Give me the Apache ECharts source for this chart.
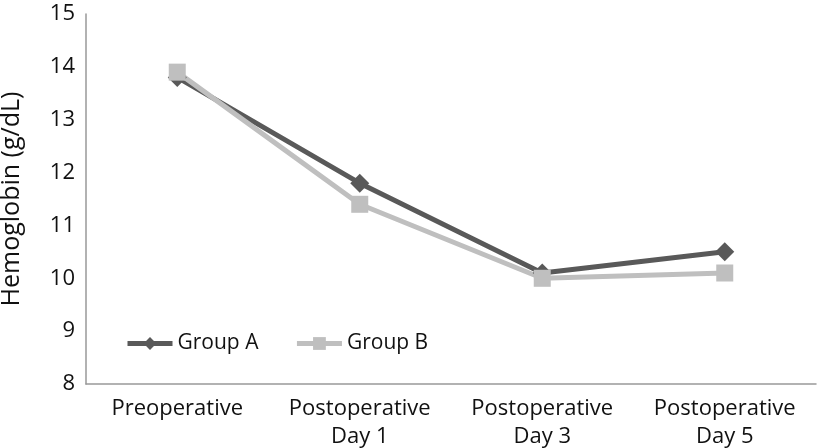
<!DOCTYPE html>
<html>
<head>
<meta charset="utf-8">
<script src="https://cdn.jsdelivr.net/npm/echarts@6/dist/echarts.min.js"></script>
<style>
  html, body { margin: 0; padding: 0; background: #fff; }
  #chart { width: 819px; height: 448px; }
</style>
</head>
<body>
<div id="chart"></div>
<script>
  const categories = ['Preoperative', 'Postoperative\nDay 1', 'Postoperative\nDay 3', 'Postoperative\nDay 5'];
  const groupA = [13.8, 11.8, 10.1, 10.5];
  const groupB = [13.9, 11.4, 10.0, 10.1];

  const chart = echarts.init(document.getElementById('chart'));
  const font = '"Open Sans", sans-serif';

  const option = {
    animation: false,
    textStyle: { fontFamily: font },
    grid: { left: 86, top: 14, width: 730, height: 370, containLabel: false, outerBoundsMode: 'none' },
    legend: {
      left: 120,
      top: 328,
      itemWidth: 45,
      itemHeight: 16,
      itemGap: 36,
      lineStyle: { width: 5 },
      textStyle: { fontFamily: font, fontSize: 21, color: '#111' },
      data: ['Group A', 'Group B']
    },
    xAxis: {
      type: 'category',
      data: categories,
      axisLine: { lineStyle: { color: '#999', width: 1.5 } },
      axisTick: { show: false },
      axisLabel: { fontFamily: font, fontSize: 22, color: '#111', lineHeight: 28, margin: 11, interval: 0 }
    },
    yAxis: {
      type: 'value',
      min: 8,
      max: 15,
      interval: 1,
      name: 'Hemoglobin (g/dL)',
      nameLocation: 'middle',
      nameGap: 62,
      nameTextStyle: { fontFamily: font, fontSize: 25, color: '#111' },
      axisLine: { show: true, lineStyle: { color: '#999', width: 1.5 } },
      axisTick: { show: false },
      splitLine: { show: false },
      axisLabel: { fontFamily: font, fontSize: 22, color: '#111', margin: 11 }
    },
    series: [
      {
        name: 'Group A',
        type: 'line',
        data: groupA,
        symbol: 'diamond',
        symbolSize: 19,
        lineStyle: { color: '#595959', width: 5 },
        itemStyle: { color: '#595959' }
      },
      {
        name: 'Group B',
        type: 'line',
        data: groupB,
        symbol: 'rect',
        symbolSize: 17,
        lineStyle: { color: '#bfbfbf', width: 5 },
        itemStyle: { color: '#bfbfbf' }
      }
    ]
  };

  chart.setOption(option);
</script>
</body>
</html>
